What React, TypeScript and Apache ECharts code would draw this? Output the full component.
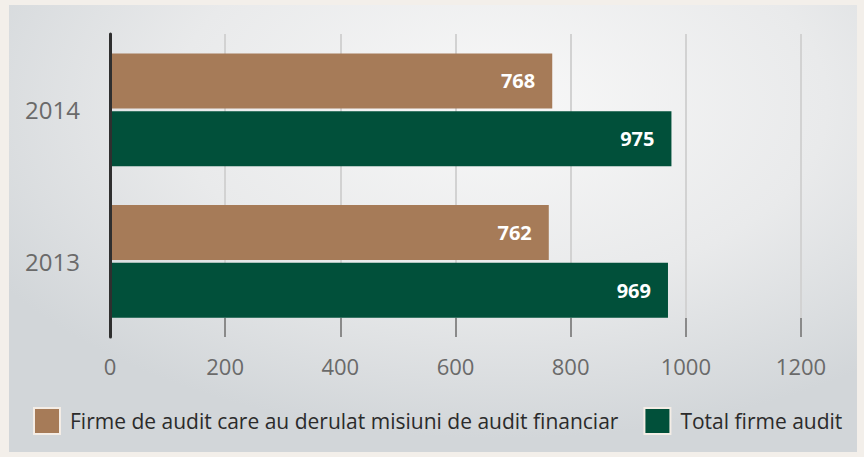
import React, { useEffect, useRef } from "react";
import * as echarts from "echarts";

const categories = ["2013", "2014"];
const seriesNames = [
  "Firme de audit care au derulat misiuni de audit financiar",
  "Total firme audit",
];
const auditFinanciar = [762, 768];
const totalFirme = [969, 975];
const xTicks = { min: 0, max: 1200, interval: 200 };

export default function App() {
  const ref = useRef<HTMLDivElement>(null);
  useEffect(() => {
    document.body.style.margin = "0";
    const chart = echarts.init(ref.current!, null, { renderer: "svg" });
    const font = "'Open Sans', 'Noto Sans', sans-serif";
    const barLabel = {
      show: true,
      position: "insideRight",
      distance: 17,
      color: "#ffffff",
      fontWeight: "bold",
      fontSize: 20,
      fontFamily: font,
    };
    chart.setOption({
      animation: false,
      backgroundColor: "transparent",
      textStyle: { fontFamily: font },
      grid: { left: 110, right: 63, top: 34, bottom: 120 },
      legend: {
        top: 402,
        left: 28,
        itemWidth: 26,
        itemHeight: 26,
        itemGap: 25,
        icon: "rect",
        textStyle: {
          fontFamily: font,
          fontSize: 21,
          color: "#2b2b2b",
          padding: [0, 0, 0, 5],
        },
        itemStyle: { borderColor: "#f4ede6", borderWidth: 2 },
        data: seriesNames,
      },
      xAxis: {
        type: "value",
        min: xTicks.min,
        max: xTicks.max,
        interval: xTicks.interval,
        axisLine: { show: false },
        axisTick: {
          show: true,
          inside: true,
          length: 19,
          lineStyle: { color: "#8a8a8a", width: 2 },
        },
        splitLine: { show: true, lineStyle: { color: "#d2d2d2", width: 2 } },
        axisLabel: {
          color: "#6a6a6a",
          fontSize: 22,
          margin: 18,
          fontFamily: font,
          formatter: (v: number) => String(v),
        },
      },
      yAxis: {
        type: "category",
        data: categories,
        z: 5,
        axisLine: { show: true, lineStyle: { color: "#2f2f2f", width: 3 } },
        axisTick: { show: false },
        axisLabel: {
          color: "#6a6a6a",
          fontSize: 24,
          margin: 30,
          fontFamily: font,
        },
      },
      series: [
        {
          name: seriesNames[0],
          type: "bar",
          data: auditFinanciar,
          barWidth: 55,
          barGap: "5%",
          itemStyle: { color: "#a67b58" },
          label: barLabel,
        },
        {
          name: seriesNames[1],
          type: "bar",
          data: totalFirme,
          barWidth: 55,
          barGap: "5%",
          itemStyle: { color: "#01503a" },
          label: barLabel,
        },
      ],
    });
    return () => chart.dispose();
  }, []);
  return (
    <div
      style={{
        position: "relative",
        width: 864,
        height: 457,
        background: "#f3efea",
        overflow: "hidden",
      }}
    >
      <div
        style={{
          position: "absolute",
          left: 9,
          top: 5,
          width: 848,
          height: 447,
          background:
            "radial-gradient(ellipse 70% 75% at 58% 22%, #f8f8f8 0%, #e9eaeb 55%, #d2d6d9 100%)",
        }}
      />
      <div
        ref={ref}
        style={{ position: "absolute", left: 0, top: 0, width: 864, height: 457 }}
      />
    </div>
  );
}
